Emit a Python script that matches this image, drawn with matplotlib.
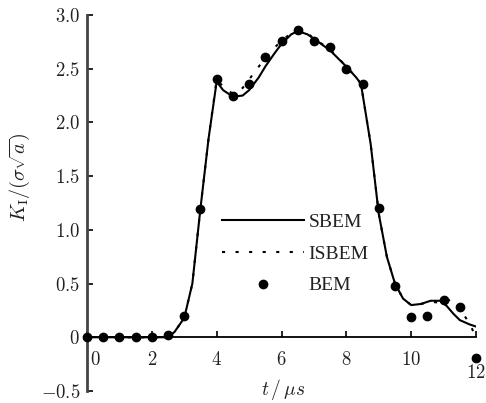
import matplotlib
matplotlib.use("Agg")
import matplotlib.pyplot as plt
import matplotlib.transforms as mtransforms
from matplotlib.ticker import FixedLocator, FixedFormatter

plt.rcParams['mathtext.fontset'] = 'cm'
plt.rcParams['font.family'] = ['DejaVu Serif']

# BEM points
bem_t = [0, 0.5, 1, 1.5, 2, 2.5, 3, 3.5, 4, 4.5, 5, 5.5, 6, 6.5, 7, 7.5, 8, 8.5,
         9, 9.5, 10, 10.5, 11, 11.5, 12]
bem_k = [0, 0, 0, 0, 0, 0.02, 0.2, 1.19, 2.40, 2.25, 2.36, 2.61, 2.76, 2.86, 2.76,
         2.70, 2.50, 2.36, 1.20, 0.48, 0.19, 0.20, 0.35, 0.28, -0.19]

# SBEM curve
sbem_t = [0, 2.5, 2.7, 3.0, 3.25, 3.5, 3.75, 4.0, 4.2, 4.5, 4.8, 5.0, 5.3, 5.5, 5.8,
          6.0, 6.3, 6.5, 6.8, 7.0, 7.5, 8.0, 8.3, 8.45, 8.75, 9.0, 9.25, 9.5, 9.75,
          10.0, 10.3, 10.6, 10.9, 11.1, 11.3, 11.5, 11.8, 12.0]
sbem_k = [0, 0, 0.05, 0.18, 0.5, 1.2, 1.85, 2.38, 2.30, 2.24, 2.25, 2.30, 2.42, 2.52,
          2.65, 2.73, 2.82, 2.85, 2.82, 2.78, 2.67, 2.52, 2.42, 2.36, 1.8, 1.15, 0.75,
          0.50, 0.36, 0.30, 0.31, 0.34, 0.34, 0.29, 0.22, 0.16, 0.12, 0.10]

# ISBEM curve
isbem_t = [0, 2.5, 2.7, 3.0, 3.25, 3.5, 3.75, 4.0, 4.3, 4.5, 4.8, 5.0, 5.3, 5.5, 5.8,
           6.0, 6.3, 6.5, 6.8, 7.0, 7.5, 8.0, 8.3, 8.45, 8.75, 9.0, 9.25, 9.5, 9.75,
           10.0, 10.3, 10.6, 11.0, 11.2, 11.4, 11.6, 11.8, 12.0]
isbem_k = [0, 0, 0.05, 0.18, 0.5, 1.2, 1.85, 2.40, 2.30, 2.27, 2.32, 2.40, 2.52, 2.60,
           2.70, 2.76, 2.83, 2.86, 2.83, 2.78, 2.68, 2.52, 2.42, 2.36, 1.8, 1.15, 0.75,
           0.50, 0.36, 0.30, 0.31, 0.33, 0.32, 0.35, 0.33, 0.22, 0.13, 0.0]

xticks = [0, 2, 4, 6, 8, 10, 12]
xtick_labels = ['$0$', '$2$', '$4$', '$6$', '$8$', '$10$', '$12$']
yticks = [3.0, 2.5, 2.0, 1.5, 1.0, 0.5, 0, -0.5]
ytick_labels = ['$3.0$', '$2.5$', '$2.0$', '$1.5$', '$1.0$', '$0.5$', '$0$', '$-0.5$']

fig = plt.figure(figsize=(4.86, 4.03), dpi=100)
ax = fig.add_axes([87/486, 1 - 391/403, (476-87)/486, (391-15)/403])

ax.plot(sbem_t, sbem_k, color='black', lw=1.5, label='SBEM')
ax.plot(isbem_t, isbem_k, color='black', lw=1.5, linestyle=(0, (1.5, 5)), label='ISBEM')
ax.plot(bem_t, bem_k, 'o', color='black', ms=6, clip_on=False, label='BEM', zorder=5)

ax.set_xlim(0, 12)
ax.set_ylim(-0.5, 3.0)

ax.spines['top'].set_visible(False)
ax.spines['right'].set_visible(False)
ax.spines['bottom'].set_position(('data', 0))
ax.spines['bottom'].set_linewidth(1.3)
ax.spines['left'].set_linewidth(2.0)
ax.spines['left'].set_color('#444444')

ax.xaxis.set_major_locator(FixedLocator(xticks))
ax.xaxis.set_major_formatter(FixedFormatter(xtick_labels))
ax.yaxis.set_major_locator(FixedLocator(yticks))
ax.yaxis.set_major_formatter(FixedFormatter(ytick_labels))
ax.tick_params(axis='x', direction='in', length=4, width=1.2, pad=10, labelsize=13.5,
               labelcolor='#222222')
ax.tick_params(axis='y', direction='in', length=4, width=1.2, pad=5, labelsize=13.5,
               labelcolor='#222222')

# small offsets for first and last x labels
labels = ax.get_xticklabels()
labels[0].set_transform(labels[0].get_transform() +
                        mtransforms.ScaledTranslation(8/100, 0, fig.dpi_scale_trans))
labels[-1].set_transform(labels[-1].get_transform() +
                         mtransforms.ScaledTranslation(0, -13/100, fig.dpi_scale_trans))

fig.text(283/486, 1 - 390/403, r'$t\,/\,\mu s$', ha='center', va='center',
         fontsize=14, color='#222222')
fig.text(20/486, 1 - 177/403, r'$K_{\rm I}/(\sigma\sqrt{a})$', ha='center', va='center',
         rotation=90, fontsize=14.5, color='#222222')

leg = ax.legend(loc='center left', bbox_to_anchor=((222-87)/389, (391-254)/376),
                frameon=False, fontsize=14, handlelength=4.2, handletextpad=0.25,
                labelspacing=0.72, borderpad=0, borderaxespad=0)
for t in leg.get_texts():
    t.set_family(['Liberation Serif'])
    t.set_color('#222222')

fig.savefig('out.png', dpi=100)
